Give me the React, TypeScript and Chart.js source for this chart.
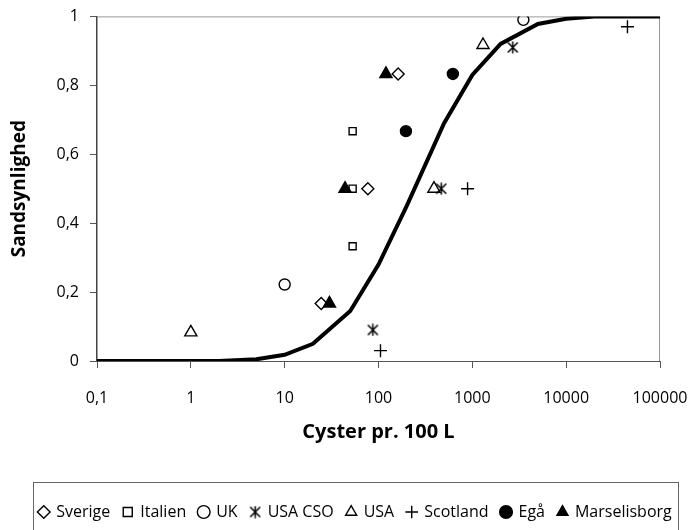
import React, { useEffect, useRef } from "react";
import { Chart, registerables } from "chart.js";

Chart.register(...registerables);

// ---- Data ----
const curveX = [0.1, 0.2, 0.5, 1, 2, 5, 10, 20, 50, 100, 200, 500, 1000, 2000, 5000, 10000, 20000, 50000, 100000];
const curveY = [0, 0, 0, 0, 0, 0.005, 0.018, 0.05, 0.145, 0.28, 0.45, 0.69, 0.83, 0.92, 0.978, 0.993, 1, 1, 1];

const sverigeX = [24.5, 77, 162];
const sverigeY = [0.167, 0.5, 0.833];
const italienX = [53, 53, 53];
const italienY = [0.333, 0.5, 0.667];
const ukX = [10, 3500];
const ukY = [0.222, 0.99];
const usaCsoX = [87, 466, 2700];
const usaCsoY = [0.09, 0.5, 0.91];
const usaX = [1, 390, 1300];
const usaY = [0.083, 0.5, 0.917];
const scotlandX = [105, 890, 45000];
const scotlandY = [0.03, 0.5, 0.97];
const egaX = [196, 620];
const egaY = [0.667, 0.833];
const marselisborgX = [30, 44, 120];
const marselisborgY = [0.167, 0.5, 0.833];

const xTickValues = [0.1, 1, 10, 100, 1000, 10000, 100000];
const xTickLabels = ["0,1", "1", "10", "100", "1000", "10000", "100000"];
const yTickLabels = ["0", "0,2", "0,4", "0,6", "0,8", "1"];

const xTitle = "Cyster pr. 100 L";
const yTitle = "Sandsynlighed";

const FONT = "'Open Sans', Lato, sans-serif";

function pts(xs: number[], ys: number[]) {
  return xs.map((x, i) => ({ x, y: ys[i] }));
}

function makeAsterisk(): HTMLCanvasElement {
  const c = document.createElement("canvas");
  const s = 13;
  c.width = s;
  c.height = s;
  const g = c.getContext("2d")!;
  g.strokeStyle = "#000";
  g.lineWidth = 1.5;
  g.beginPath();
  g.moveTo(6.5, 0.5);
  g.lineTo(6.5, 12.5);
  g.moveTo(1.5, 1.5);
  g.lineTo(11.5, 11.5);
  g.moveTo(11.5, 1.5);
  g.lineTo(1.5, 11.5);
  g.stroke();
  return c;
}

const legendBoxPlugin = {
  id: "legendBox",
  afterDraw(chart: any) {
    const lg = chart.legend;
    if (!lg || !lg.legendHitBoxes || !lg.legendHitBoxes.length) return;
    const boxes = lg.legendHitBoxes;
    let minL = Infinity;
    let maxR = -Infinity;
    let cy = 0;
    boxes.forEach((b: any) => {
      minL = Math.min(minL, b.left);
      maxR = Math.max(maxR, b.left + b.width);
      cy = b.top + b.height / 2;
    });
    const ctx = chart.ctx;
    ctx.save();
    ctx.strokeStyle = "#666";
    ctx.lineWidth = 1;
    const l = Math.round(minL - 6) + 0.5;
    const r = Math.round(maxR + 6) + 0.5;
    const t = Math.round(cy - 30) + 0.5;
    const b = chart.height + 20;
    ctx.strokeRect(l, t, r - l, b - t);
    ctx.restore();
  },
};

const frameBorderPlugin = {
  id: "frameBorder",
  beforeDatasetsDraw(chart: any) {
    const { left, right, top, bottom } = chart.chartArea;
    const ctx = chart.ctx;
    ctx.save();
    ctx.strokeStyle = "#999";
    ctx.lineWidth = 1;
    ctx.beginPath();
    ctx.moveTo(left, top + 0.5);
    ctx.lineTo(right - 0.5, top + 0.5);
    ctx.lineTo(right - 0.5, bottom);
    ctx.stroke();
    ctx.restore();
  },
};

export default function App() {
  const ref = useRef<HTMLCanvasElement | null>(null);

  useEffect(() => {
    if (!ref.current) return;
    const asterisk = makeAsterisk();
    const common = {
      borderColor: "#000",
      borderWidth: 1.4,
      showLine: false,
      pointHoverRadius: 6,
    };
    const chart = new Chart(ref.current, {
      type: "scatter",
      data: {
        datasets: [
          { ...common, label: "Sverige", data: pts(sverigeX, sverigeY), pointStyle: "rectRot", pointRadius: 6, backgroundColor: "rgba(0,0,0,0)", order: 1 },
          { ...common, label: "Italien", data: pts(italienX, italienY), pointStyle: "rect", pointRadius: 5, backgroundColor: "rgba(0,0,0,0)", order: 1 },
          { ...common, label: "UK", data: pts(ukX, ukY), pointStyle: "circle", pointRadius: 5.5, backgroundColor: "rgba(0,0,0,0)", order: 1 },
          { ...common, label: "USA CSO", data: pts(usaCsoX, usaCsoY), pointStyle: asterisk as any, pointRadius: 6, backgroundColor: "rgba(0,0,0,0)", order: 1 },
          { ...common, label: "USA", data: pts(usaX, usaY), pointStyle: "triangle", pointRadius: 7, backgroundColor: "rgba(0,0,0,0)", order: 1 },
          { ...common, label: "Scotland", data: pts(scotlandX, scotlandY), pointStyle: "cross", pointRadius: 6.5, backgroundColor: "rgba(0,0,0,0)", order: 1 },
          { ...common, label: "Egå", data: pts(egaX, egaY), pointStyle: "circle", pointRadius: 5.5, backgroundColor: "#000", order: 1 },
          { ...common, label: "Marselisborg", data: pts(marselisborgX, marselisborgY), pointStyle: "triangle", pointRadius: 7, backgroundColor: "#000", order: 1 },
          {
            label: "curve",
            data: pts(curveX, curveY),
            showLine: true,
            borderColor: "#000",
            borderWidth: 4,
            pointRadius: 0,
            pointHoverRadius: 0,
            tension: 0,
            order: 2,
          } as any,
        ],
      },
      options: {
        animation: false,
        responsive: false,
        maintainAspectRatio: false,
        layout: { padding: { left: 12, right: 0, top: 6, bottom: 0 } },
        plugins: {
          tooltip: { enabled: false },
          legend: {
            display: true,
            position: "bottom",
            labels: {
              usePointStyle: true,
              boxWidth: 9,
              boxHeight: 9,
              padding: 13,
              color: "#000",
              font: { family: FONT, size: 16 },
              filter: (item: any) => item.text !== "curve",
            },
          },
        },
        scales: {
          x: {
            type: "logarithmic",
            min: 0.1,
            max: 100000,
            afterBuildTicks: (scale: any) => {
              scale.ticks = xTickValues.map((v) => ({ value: v }));
            },
            afterFit: (scale: any) => {
              scale.height = 130;
              scale.paddingLeft = 0;
              scale.paddingRight = 31;
            },
            ticks: {
              autoSkip: false,
              maxRotation: 0,
              padding: 21,
              color: "#000",
              font: { family: FONT, size: 16 },
              callback: (v: any) => {
                const i = xTickValues.indexOf(Number(v));
                return i >= 0 ? xTickLabels[i] : "";
              },
            },
            grid: {
              display: true,
              drawOnChartArea: false,
              drawTicks: true,
              tickLength: 7,
              color: "#555",
            },
            border: { display: true, color: "#555", width: 1 },
            title: {
              display: true,
              text: xTitle,
              color: "#000",
              font: { family: FONT, size: 20, weight: "bold", lineHeight: 1.2 },
              padding: { top: 0, bottom: 47 },
            },
          },
          y: {
            type: "linear",
            min: 0,
            max: 1,
            afterFit: (scale: any) => {
              scale.width = 77;
              scale.paddingTop = 0;
              scale.paddingBottom = 0;
            },
            ticks: {
              stepSize: 0.2,
              padding: 11,
              color: "#000",
              font: { family: FONT, size: 16 },
              callback: (v: any) => {
                const i = Math.round(Number(v) / 0.2);
                return yTickLabels[i] ?? "";
              },
            },
            grid: {
              display: true,
              drawOnChartArea: false,
              drawTicks: true,
              tickLength: 7,
              color: "#555",
            },
            border: { display: true, color: "#444", width: 1.5 },
            title: {
              display: true,
              text: yTitle,
              color: "#000",
              font: { family: FONT, size: 19, weight: "bold", lineHeight: 1.2 },
              padding: { top: -11.4, bottom: 0 },
            },
          },
        },
      } as any,
      plugins: [legendBoxPlugin, frameBorderPlugin],
    });
    return () => chart.destroy();
  }, []);

  return (
    <div style={{ width: 683, height: 522 }}>
      <canvas ref={ref} width={683} height={522} style={{ display: "block" }} />
    </div>
  );
}
